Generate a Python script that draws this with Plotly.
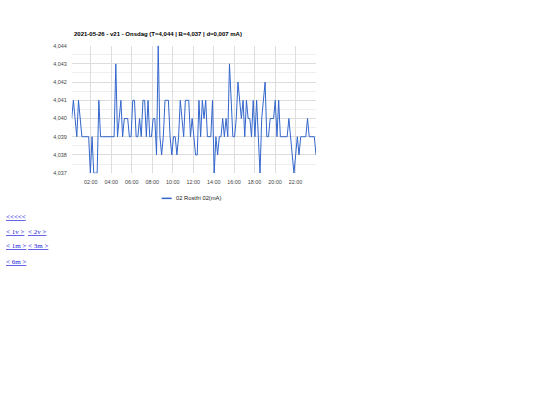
import pandas as pd
import plotly.graph_objects as go

W, H = 540, 405

# ---- data ----
series_name = "02 Rostfri 02(mA)"
title_text = "2021-05-26 - v21 - Onsdag (T=4,044 | B=4,037 | d=0,007 mA)"
start_time = "2021-05-26 00:08"
end_time = "2021-05-27 00:00"
values = [
    4.040, 4.041, 4.040, 4.039, 4.041, 4.040, 4.039, 4.039, 4.039, 4.039,
    4.039, 4.037, 4.039, 4.037, 4.037, 4.037, 4.041, 4.039, 4.039, 4.039,
    4.039, 4.039, 4.039, 4.039, 4.039, 4.039, 4.043, 4.039, 4.040, 4.041,
    4.039, 4.040, 4.040, 4.040, 4.039, 4.039, 4.041, 4.041, 4.039, 4.039,
    4.040, 4.039, 4.041, 4.041, 4.039, 4.041, 4.039, 4.039, 4.040, 4.040,
    4.038, 4.044, 4.039, 4.038, 4.039, 4.041, 4.041, 4.041, 4.039, 4.038,
    4.039, 4.039, 4.038, 4.039, 4.041, 4.040, 4.039, 4.041, 4.041, 4.041,
    4.039, 4.040, 4.039, 4.038, 4.038, 4.041, 4.039, 4.041, 4.040, 4.041,
    4.039, 4.039, 4.039, 4.041, 4.037, 4.039, 4.038, 4.039, 4.039, 4.040,
    4.039, 4.040, 4.039, 4.043, 4.041, 4.039, 4.039, 4.040, 4.042, 4.041,
    4.040, 4.041, 4.039, 4.041, 4.040, 4.040, 4.039, 4.041, 4.039, 4.041,
    4.039, 4.037, 4.040, 4.041, 4.042, 4.039, 4.039, 4.040, 4.040, 4.040,
    4.041, 4.039, 4.041, 4.039, 4.039, 4.039, 4.039, 4.039, 4.040, 4.039,
    4.038, 4.037, 4.038, 4.039, 4.038, 4.039, 4.039, 4.039, 4.039, 4.040,
    4.039, 4.039, 4.039, 4.039, 4.038,
]
y_min, y_max = 4.037, 4.044
x_tick_labels = ["02:00", "04:00", "06:00", "08:00", "10:00", "12:00",
                 "14:00", "16:00", "18:00", "20:00", "22:00"]
links = [["<<<<<"], ["< 1v >", "< 2v >"], ["< 1m >", "< 3m >"], ["< 6m >"]]

times = pd.date_range(start_time, end_time, periods=len(values))
tick_vals = [pd.Timestamp("2021-05-26 " + t) for t in x_tick_labels]

# ---- layout geometry (pixels) ----
pl, pr, pt, pb = 71.7, 316.0, 43.3, 172.7

fig = go.Figure()
fig.add_trace(go.Scatter(
    x=times, y=values, mode="lines", name=series_name,
    line=dict(color="#3366cc", width=1), showlegend=False,
))

font_main = "Liberation Sans, Arial, sans-serif"

fig.update_layout(
    width=W, height=H,
    margin=dict(l=0, r=0, t=0, b=0),
    paper_bgcolor="white", plot_bgcolor="white",
    separators=", ",
    font=dict(family=font_main, size=5.4, color="#444"),
    xaxis=dict(
        domain=[pl / W, pr / W],
        range=[times[0], times[-1]],
        type="date",
        tickvals=tick_vals, ticktext=x_tick_labels,
        showgrid=True, gridcolor="#dddddd", gridwidth=1,
        zeroline=False, showline=False,
        ticks="", ticklabelstandoff=4,
        tickfont=dict(size=5.4, color="#444"),
    ),
    yaxis=dict(
        domain=[1 - pb / H, 1 - pt / H],
        range=[y_min, y_max],
        dtick=0.001, tickformat=".3f",
        showgrid=True, gridcolor="#dddddd", gridwidth=1,
        zeroline=False, showline=False,
        ticks="", ticklabelstandoff=4,
        tickfont=dict(size=5.4, color="#444"),
        minor=dict(dtick=0.0005, showgrid=True, gridcolor="#efefef"),
    ),
)

annotations = []
annotations.append(dict(
    text="<b>" + title_text + "</b>", xref="paper", yref="paper",
    x=pl / W, y=1 - 31 / H, xanchor="left", yanchor="middle", showarrow=False,
    font=dict(family=font_main, size=6, color="#000"),
))
# legend
leg_y = 1 - 198.3 / H
fig.add_shape(type="line", xref="paper", yref="paper",
              x0=161.7 / W, x1=171.7 / W, y0=leg_y, y1=leg_y,
              line=dict(color="#3366cc", width=1.5))
annotations.append(dict(
    text=series_name, xref="paper", yref="paper",
    x=174 / W, y=leg_y, xanchor="left", yanchor="middle", showarrow=False,
    font=dict(family=font_main, size=5.8, color="#222"),
))
# links below chart
row_y = [217, 232, 247, 263]
col_x = [3.5, 25.5]
for r, row in enumerate(links):
    for c, t in enumerate(row):
        annotations.append(dict(
            text="<u>" + t.replace("<", "&lt;").replace(">", "&gt;") + "</u>",
            xref="paper", yref="paper",
            x=col_x[c] / W, y=1 - row_y[r] / H, xanchor="left", yanchor="middle",
            showarrow=False,
            font=dict(family="Liberation Serif, Times New Roman, serif", size=7, color="#2222dd"),
        ))
fig.update_layout(annotations=annotations)

fig.write_html(
    "out.html",
    config={"displayModeBar": False},
    post_script="document.body.style.margin='0';document.body.style.overflow='hidden';",
)
